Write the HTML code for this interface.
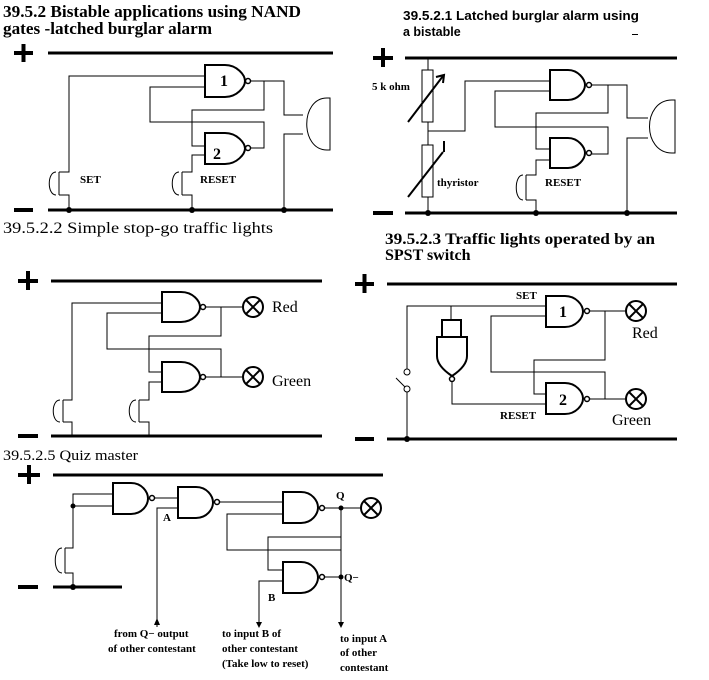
<!DOCTYPE html>
<html><head><meta charset="utf-8"><style>
html,body{margin:0;padding:0;background:#fff;}
svg{display:block;}
.t{font-family:"Liberation Serif",serif;}
.b{font-family:"Liberation Serif",serif;font-weight:bold;font-size:11px;}
.a{font-family:"Liberation Sans",sans-serif;font-weight:bold;font-size:12.5px;}
</style></head><body>
<svg width="709" height="680" viewBox="0 0 709 680" xmlns="http://www.w3.org/2000/svg">
<g fill="none" stroke="#000" stroke-width="1">
<line x1="48" y1="53" x2="333" y2="53" stroke-width="3"/>
<line x1="48" y1="210" x2="333" y2="210" stroke-width="3"/>
<path d="M205 65 H225 C237 65 245 75 245 81 C245 87 237 97 225 97 H205Z" stroke-width="2"/>
<path d="M205 133 H225 C237 133 245 143 245 148.5 C245 154 237 164 225 164 H205Z" stroke-width="2"/>
<circle cx="248" cy="81" r="2.5" stroke-width="1.5"/>
<circle cx="248" cy="148" r="2.5" stroke-width="1.5"/>
<polyline points="205,76 69,76 69,172 59,172"/>
<polyline points="205,87 150,87 150,122 264,122 264,148 251,148"/>
<polyline points="251,81 284,81 284,115 303,115"/>
<polyline points="264,81 264,110 192,110 192,146 205,146"/>
<polyline points="205,155 192,155 192,172 182,172"/>
<polyline points="303,134 284,134 284,210"/>
<line x1="59" y1="172" x2="59" y2="195"/><polyline points="59,195 69,195 69,210"/>
<path d="M56 172 C47 172 47 195 56 195"/>
<line x1="182" y1="172" x2="182" y2="195"/><polyline points="182,195 192,195 192,210"/>
<path d="M179 172 C170 172 170 195 179 195"/>
<path d="M330 98 V150 H327 C300 150 300 98 327 98 Z" stroke-width="1"/>
<line x1="405" y1="58" x2="677" y2="58" stroke-width="3"/>
<line x1="405" y1="213" x2="677" y2="213" stroke-width="3"/>
<line x1="428" y1="58" x2="428" y2="70"/>
<rect x="422" y="70" width="11" height="52"/>
<line x1="428" y1="122" x2="428" y2="145"/>
<rect x="422" y="145" width="11" height="52"/>
<line x1="428" y1="197" x2="428" y2="213"/>
<line x1="408" y1="122" x2="443" y2="76" stroke-width="2"/>
<polyline points="436,77 444,75 443,83" stroke-width="2"/>
<line x1="408" y1="197" x2="443" y2="152" stroke-width="2"/>
<line x1="444" y1="152" x2="444" y2="141" stroke-width="2"/>
<polyline points="428,131 465,131 465,81 550,81"/>
<path d="M550 70 H568 C578 70 585 79 585 85 C585 91 578 100 568 100 H550Z" stroke-width="2"/>
<path d="M550 138 H568 C578 138 585 147 585 153 C585 159 578 168 568 168 H550Z" stroke-width="2"/>
<circle cx="589" cy="85" r="2.5" stroke-width="1.5"/>
<circle cx="589" cy="153" r="2.5" stroke-width="1.5"/>
<polyline points="550,91 495,91 495,127 608,127 608,154 592,154"/>
<polyline points="592,85 627,85 627,118 648,118"/>
<polyline points="608,85 608,113 536,113 536,149 550,149"/>
<polyline points="550,160 536,160 536,175 526,175"/>
<line x1="526" y1="175" x2="526" y2="200"/><polyline points="526,200 536,200 536,213"/>
<path d="M523 175 C514 175 514 200 523 200"/>
<polyline points="648,138 627,138 627,213"/>
<path d="M675 100 V153 H672 C642 153 642 100 672 100 Z"/>
<line x1="51" y1="281" x2="322" y2="281" stroke-width="3"/>
<line x1="51" y1="436" x2="322" y2="436" stroke-width="3"/>
<path d="M162 292 H181 C193 292 200 301 200 307 C200 313 193 322 181 322 H162Z" stroke-width="2"/>
<path d="M162 362 H181 C193 362 200 371 200 377 C200 383 193 392 181 392 H162Z" stroke-width="2"/>
<circle cx="203" cy="307" r="2.5" stroke-width="1.5"/>
<circle cx="203" cy="377" r="2.5" stroke-width="1.5"/>
<polyline points="162,303 72,303 72,400 63,400"/>
<polyline points="162,313 107,313 107,349 221,349 221,377"/>
<polyline points="206,307 242,307"/>
<polyline points="221,307 221,336 149,336 149,372 162,372"/>
<polyline points="206,377 242,377"/>
<polyline points="162,382 149,382 149,400 139,400"/>
<line x1="63" y1="400" x2="63" y2="422"/><polyline points="63,422 72,422 72,436"/>
<path d="M60 400 C51 400 51 422 60 422"/>
<line x1="139" y1="400" x2="139" y2="422"/><polyline points="139,422 149,422 149,436"/>
<path d="M136 400 C127 400 127 422 136 422"/>
<g stroke-width="2"><circle cx="253" cy="307" r="10"/><line x1="246" y1="300" x2="260" y2="314"/><line x1="260" y1="300" x2="246" y2="314"/>
<circle cx="253" cy="377" r="10"/><line x1="246" y1="370" x2="260" y2="384"/><line x1="260" y1="370" x2="246" y2="384"/></g>
<line x1="387" y1="284" x2="677" y2="284" stroke-width="3"/>
<line x1="387" y1="439" x2="677" y2="439" stroke-width="3"/>
<path d="M546 296 H565 C576 296 583 305 583 311.5 C583 318 576 327 565 327 H546Z" stroke-width="2"/>
<path d="M546 383 H565 C576 383 583 392 583 398.5 C583 405 576 414 565 414 H546Z" stroke-width="2"/>
<circle cx="587" cy="311" r="2.5" stroke-width="1.5"/>
<circle cx="587" cy="399" r="2.5" stroke-width="1.5"/>
<polyline points="546,306 407,306 407,369"/>
<line x1="451" y1="306" x2="451" y2="320"/>
<rect x="442" y="320" width="19" height="17" stroke-width="2"/>
<path d="M437 337 H467 V356 C467 365 458 372 452 376 C446 372 437 365 437 356 Z" stroke-width="2"/>
<circle cx="452" cy="379" r="2.5" stroke-width="1.5"/>
<polyline points="452,382 452,404 546,404"/>
<polyline points="546,316 491,316 491,372 605,372 605,399"/>
<polyline points="590,311 626,311"/>
<polyline points="605,311 605,360 534,360 534,394 546,394"/>
<polyline points="590,399 626,399"/>
<circle cx="407" cy="372" r="3"/><circle cx="407" cy="389" r="3"/>
<line x1="396" y1="378" x2="405" y2="387"/>
<line x1="407" y1="392" x2="407" y2="439"/>
<g stroke-width="2"><circle cx="636" cy="311" r="10"/><line x1="629" y1="304" x2="643" y2="318"/><line x1="643" y1="304" x2="629" y2="318"/>
<circle cx="636" cy="399" r="10"/><line x1="629" y1="392" x2="643" y2="406"/><line x1="643" y1="392" x2="629" y2="406"/></g>
<line x1="53" y1="475" x2="383" y2="475" stroke-width="3"/>
<line x1="53" y1="587" x2="122" y2="587" stroke-width="3"/>
<path d="M113 483 H131 C142 483 148 492 148 498.5 C148 505 142 514 131 514 H113Z" stroke-width="2"/>
<path d="M178 487 H196 C207 487 213 496 213 502.5 C213 509 207 518 196 518 H178Z" stroke-width="2"/>
<path d="M283 492 H301 C312 492 318 501 318 507.5 C318 514 312 523 301 523 H283Z" stroke-width="2"/>
<path d="M283 562 H301 C312 562 318 571 318 577.5 C318 584 312 593 301 593 H283Z" stroke-width="2"/>
<circle cx="152" cy="498" r="2.5" stroke-width="1.5"/>
<circle cx="217" cy="502" r="2.5" stroke-width="1.5"/>
<circle cx="322" cy="508" r="2.5" stroke-width="1.5"/>
<circle cx="322" cy="577" r="2.5" stroke-width="1.5"/>
<polyline points="113,494 73,494 73,548 65,548"/>
<line x1="73" y1="506" x2="113" y2="506"/>
<line x1="65" y1="548" x2="65" y2="573"/><polyline points="65,573 73,573 73,587"/>
<path d="M62 548 C53 548 53 573 62 573"/>
<polyline points="155,498 178,498"/>
<polyline points="178,508 157,508 157,627"/>
<polyline points="220,502 283,502"/>
<polyline points="283,514 227,514 227,550 341,550"/>
<polyline points="325,508 360,508"/>
<polyline points="341,508 341,537 268,537 268,570 283,570"/>
<line x1="341" y1="508" x2="341" y2="622"/>
<polyline points="283,581 259,581 259,622"/>
<line x1="325" y1="577" x2="341" y2="577"/>
<g stroke-width="2"><circle cx="371" cy="508" r="10"/><line x1="364" y1="501" x2="378" y2="515"/><line x1="378" y1="501" x2="364" y2="515"/></g>
</g>
<g fill="#000">
<rect x="14" y="51" width="19" height="4"/><rect x="21.5" y="44" width="4" height="18"/>
<rect x="14" y="208" width="19" height="4"/>
<rect x="373" y="56" width="20" height="4"/><rect x="381" y="48" width="4" height="19"/>
<rect x="373" y="211" width="20" height="4"/>
<rect x="18" y="279" width="20" height="4"/><rect x="26" y="271" width="4" height="19"/>
<rect x="18" y="434" width="20" height="4"/>
<rect x="355" y="282" width="19" height="4"/><rect x="362.5" y="274" width="4" height="19"/>
<rect x="355" y="437" width="19" height="4"/>
<rect x="18" y="473" width="22" height="4"/><rect x="27" y="465" width="4" height="19"/>
<rect x="18" y="585" width="20" height="4"/>
<circle cx="69" cy="210" r="3"/><circle cx="192" cy="210" r="3"/><circle cx="284" cy="210" r="3"/>
<circle cx="428" cy="213" r="3"/><circle cx="536" cy="213" r="3"/><circle cx="627" cy="213" r="3"/>
<circle cx="407" cy="439" r="3"/>
<circle cx="73" cy="506" r="2.5"/><circle cx="73" cy="587" r="3"/>
<circle cx="341" cy="508" r="2.5"/><circle cx="341" cy="577" r="2.5"/>
<polygon points="157,618 154,625 160,625"/>
<polygon points="256,622 262,622 259,628"/>
<polygon points="338,622 344,622 341,628"/>
<rect x="632" y="34" width="6" height="1"/>
<text class="t" x="3" y="17" font-size="17" font-weight="bold" textLength="298" lengthAdjust="spacingAndGlyphs">39.5.2 Bistable applications using NAND</text>
<text class="t" x="3" y="34" font-size="17" font-weight="bold" textLength="209" lengthAdjust="spacingAndGlyphs">gates -latched burglar alarm</text>
<text class="t" x="220" y="86" font-size="16" font-weight="bold">1</text>
<text class="t" x="213" y="159" font-size="16" font-weight="bold">2</text>
<text class="b" x="80" y="183">SET</text>
<text class="b" x="200" y="183">RESET</text>
<text class="a" x="403" y="20" textLength="236" lengthAdjust="spacingAndGlyphs">39.5.2.1 Latched burglar alarm using</text>
<text class="a" x="403" y="36">a bistable</text>
<text class="b" x="372" y="90">5 k ohm</text>
<text class="b" x="437" y="186">thyristor</text>
<text class="b" x="545" y="186">RESET</text>
<text class="t" x="3" y="233" font-size="16" textLength="270" lengthAdjust="spacingAndGlyphs">39.5.2.2 Simple stop-go traffic lights</text>
<text class="t" x="272" y="312" font-size="16">Red</text>
<text class="t" x="272" y="386" font-size="16">Green</text>
<text class="t" x="385" y="244" font-size="16" font-weight="bold" textLength="270" lengthAdjust="spacingAndGlyphs">39.5.2.3 Traffic lights operated by an</text>
<text class="t" x="385" y="260" font-size="16" font-weight="bold">SPST switch</text>
<text class="b" x="516" y="299">SET</text>
<text class="b" x="500" y="419">RESET</text>
<text class="t" x="559" y="317" font-size="16" font-weight="bold">1</text>
<text class="t" x="559" y="405" font-size="16" font-weight="bold">2</text>
<text class="t" x="632" y="338" font-size="16">Red</text>
<text class="t" x="612" y="425" font-size="16">Green</text>
<text class="t" x="3" y="460" font-size="15" textLength="135" lengthAdjust="spacingAndGlyphs">39.5.2.5 Quiz master</text>
<text class="b" x="163" y="521">A</text>
<text class="b" x="336" y="499" font-size="12">Q</text>
<text class="b" x="344" y="581" font-size="12">Q−</text>
<text class="b" x="268" y="601">B</text>
<text class="b" x="114" y="637">from Q− output</text>
<text class="b" x="108" y="652">of other contestant</text>
<text class="b" x="222" y="637">to input B of</text>
<text class="b" x="222" y="652">other contestant</text>
<text class="b" x="222" y="667">(Take low to reset)</text>
<text class="b" x="340" y="642">to input A</text>
<text class="b" x="340" y="656">of other</text>
<text class="b" x="340" y="671">contestant</text>
</g>
</svg>
</body></html>
